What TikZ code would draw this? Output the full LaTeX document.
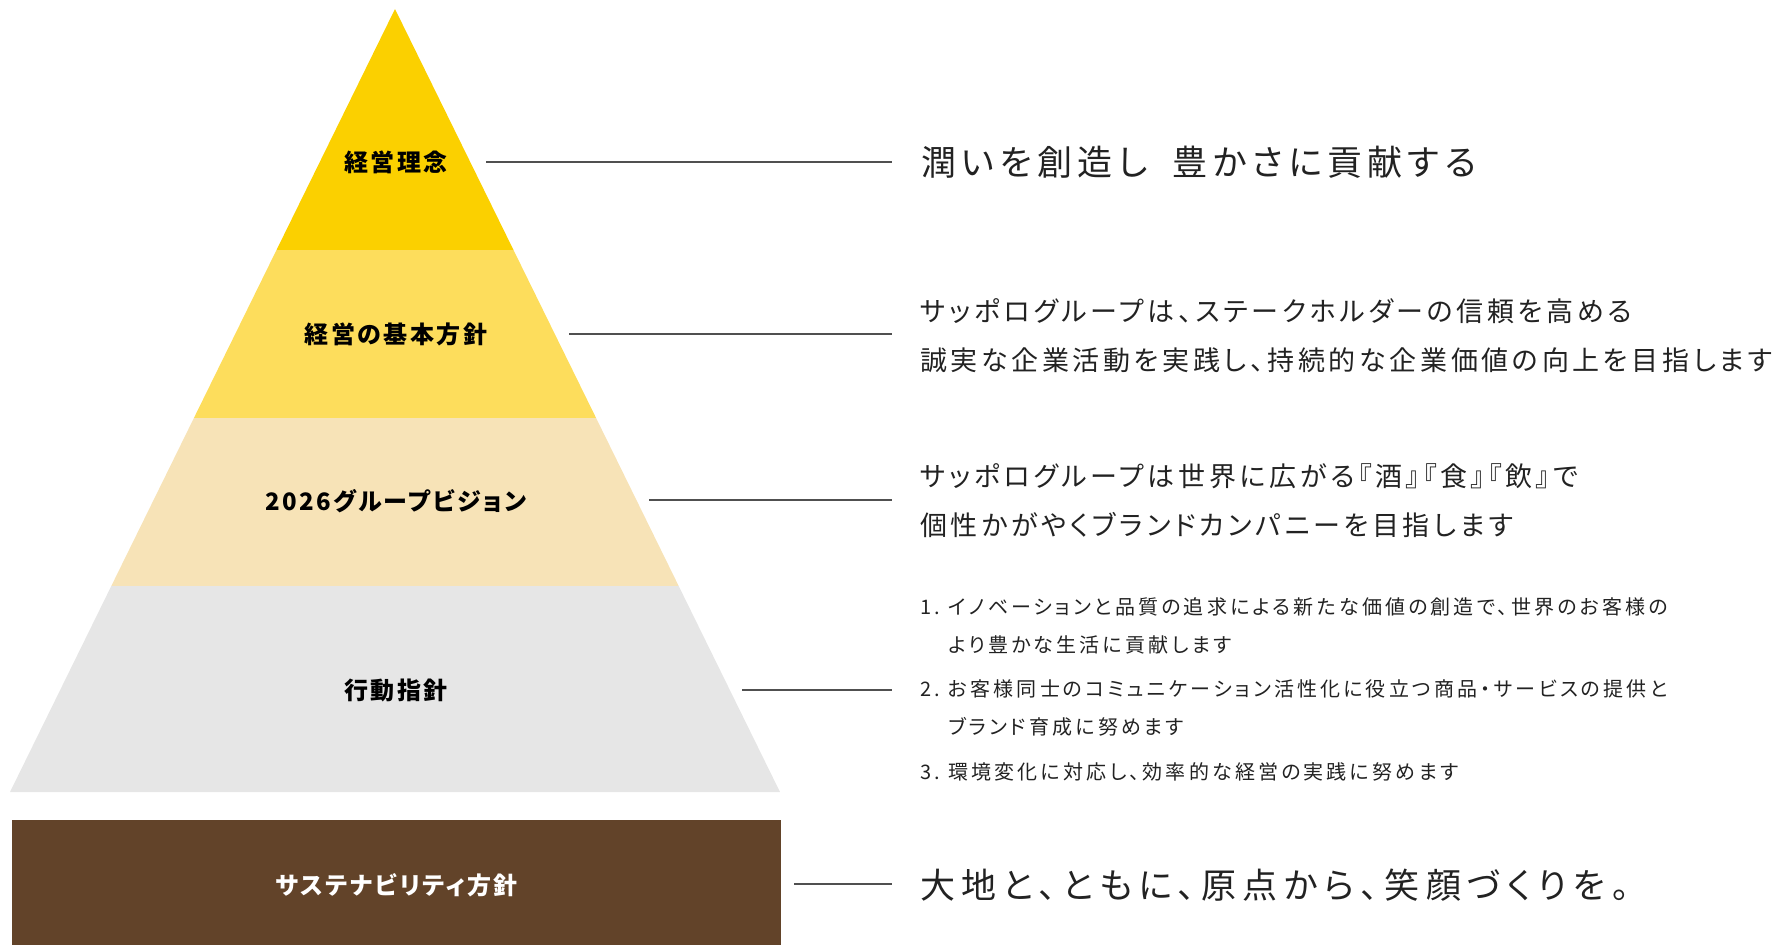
\documentclass[tikz,border=0pt]{standalone}
\usepackage{fontspec}
\newfontfamily\jpbody[RawFeature=+palt]{Noto Sans CJK JP}
\newfontfamily\jplab[RawFeature=+palt,LetterSpace=10]{Noto Sans CJK JP}
\definecolor{bandA}{RGB}{251,208,0}
\definecolor{bandB}{RGB}{253,221,92}
\definecolor{bandC}{RGB}{247,227,183}
\definecolor{bandD}{RGB}{230,230,230}
\definecolor{brownbox}{RGB}{98,67,41}
\definecolor{linegray}{RGB}{80,80,80}
\definecolor{txt}{RGB}{34,34,34}
\begin{document}
\begin{tikzpicture}[x=1pt,y=-1pt,
  lbl/.style={font=\jplab\bfseries\fontsize{24}{28}\selectfont, text=black, inner sep=0pt},
  big/.style={anchor=west, inner sep=0pt, text=txt, font=\jpbody\addfontfeature{LetterSpace=15}\fontsize{35}{40}\selectfont},
  bigb/.style={anchor=west, inner sep=0pt, text=txt, font=\jpbody\addfontfeature{LetterSpace=18}\fontsize{35}{40}\selectfont},
  mid/.style={anchor=west, inner sep=0pt, text=txt, font=\jpbody\addfontfeature{LetterSpace=13.5}\fontsize{27}{30}\selectfont},
  small/.style={anchor=west, inner sep=0pt, text=txt, font=\jpbody\addfontfeature{LetterSpace=15.8}\fontsize{20}{24}\selectfont},
  conn/.style={draw=linegray, line width=1.4pt}]
\useasboundingbox (0,0) rectangle (1786,945);
% pyramid bands
\fill[bandA] (395,9) -- (513.5,250) -- (276.5,250) -- cycle;
\fill[bandB] (276.5,250) -- (513.5,250) -- (596.1,418) -- (193.9,418) -- cycle;
\fill[bandC] (193.9,418) -- (596.1,418) -- (678.7,586) -- (111.3,586) -- cycle;
\fill[bandD] (111.3,586) -- (678.7,586) -- (780,792) -- (10,792) -- cycle;
\fill[brownbox] (11.5,820) rectangle (781,945);
% labels
\node[lbl] (L1) at (396,162) {経営理念};
\node[lbl] (L2) at (396,334) {経営の基本方針};
\node[lbl] (L3) at (396,501) {2026グループビジョン};
\node[lbl] (L4) at (396,690) {行動指針};
\node[lbl, text=white] (L5) at (397,885) {サステナビリティ方針};
% right texts
\node[big] (T1) at (921,162) {潤いを創造し\hspace{0.72em}豊かさに貢献する};
\node[mid] (T2a) at (920,311) {サッポログループは、ステークホルダーの信頼を高める};
\node[mid] (T2b) at (920,360) {誠実な企業活動を実践し、持続的な企業価値の向上を目指します};
\node[mid] (T3a) at (920,476) {サッポログループは世界に広がる『酒』『食』『飲』で};
\node[mid] (T3b) at (920,525) {個性かがやくブランドカンパニーを目指します};
\node[small] (I1a) at (920,607) {\makebox[28pt][l]{1.}イノベーションと品質の追求による新たな価値の創造で、世界のお客様の};
\node[small] (I1b) at (948,645) {より豊かな生活に貢献します};
\node[small] (I2a) at (920,689) {\makebox[28pt][l]{2.}お客様同士のコミュニケーション活性化に役立つ商品・サービスの提供と};
\node[small] (I2b) at (948,727) {ブランド育成に努めます};
\node[small] (I3) at (920,772) {\makebox[28pt][l]{3.}環境変化に対応し、効率的な経営の実践に努めます};
\node[bigb] (T5) at (920,885) {大地と、ともに、原点から、笑顔づくりを。};
% connectors
\coordinate (s1) at (486,162); \coordinate (e1) at (892,162);
\coordinate (s2) at (569,334); \coordinate (e2) at (892,334);
\coordinate (s3) at (649,500); \coordinate (e3) at (892,500);
\coordinate (s4) at (742,690); \coordinate (e4) at (892,690);
\coordinate (s5) at (794,884); \coordinate (e5) at (892,884);
\draw[conn] (s1) -- (e1);
\draw[conn] (s2) -- (e2);
\draw[conn] (s3) -- (e3);
\draw[conn] (s4) -- (e4);
\draw[conn] (s5) -- (e5);
\end{tikzpicture}
\end{document}
